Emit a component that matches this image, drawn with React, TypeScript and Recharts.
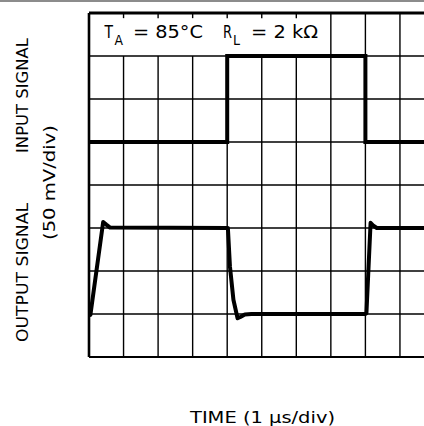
import React from 'react';
import { LineChart, Line, XAxis, YAxis, ReferenceLine } from 'recharts';

// time in divisions (1 µs/div), level in vertical divisions (50 mV/div)
const inputTime = [0, 4, 4, 8, 8, 10];
const inputLevel = [5, 5, 7, 7, 5, 5];

const outputTime = [0, 0.04, 0.41, 0.5, 0.61, 4.02, 4.08, 4.18, 4.3, 4.38, 4.51, 4.7, 8.0, 8.03, 8.15, 8.22, 8.33, 10];
const outputLevel = [0.97, 0.98, 3.14, 3.08, 3.01, 3.0, 2.1, 1.33, 0.9, 0.93, 0.99, 1.0, 1.0, 1.02, 3.12, 3.06, 3.0, 3.0];

const rowLines = [1, 2, 3, 4, 5, 6, 7];
const boxedColumns = [1, 2, 3, 4, 5, 6];
const openColumns = [7, 8, 9, 10];

const inputData = inputTime.map((t, i) => ({ t, v: inputLevel[i] }));
const outputData = outputTime.map((t, i) => ({ t, v: outputLevel[i] }));

const FONT = '"DejaVu Sans Condensed", "Liberation Sans Narrow", "Liberation Sans", Arial, sans-serif';

export default function App() {
  return (
    <div
      style={{
        position: 'fixed',
        left: 0,
        top: 0,
        width: 424,
        height: 426,
        overflow: 'hidden',
        background: '#fff',
      }}
    >
      <div style={{ position: 'absolute', left: 0, top: 0, width: 424, height: 2, background: '#8c8c8c' }} />
      <LineChart
        width={440}
        height={426}
        margin={{ top: 13, left: 89, right: 5.5, bottom: 69 }}
        style={{ position: 'absolute', left: 0, top: 0 }}
      >
        <XAxis type="number" dataKey="t" domain={[0, 10]} hide allowDataOverflow />
        <YAxis type="number" dataKey="v" domain={[0, 8]} hide allowDataOverflow />
        {rowLines.map((r) => (
          <ReferenceLine key={'r' + r} y={r} stroke="#000" strokeWidth={1.4} />
        ))}
        <ReferenceLine y={0} stroke="#000" strokeWidth={2} />
        {boxedColumns.map((c) => (
          <ReferenceLine key={'b' + c} segment={[{ x: c, y: 0 }, { x: c, y: 7 }]} stroke="#000" strokeWidth={1.4} />
        ))}
        {boxedColumns.map((c) => (
          <ReferenceLine key={'k' + c} segment={[{ x: c, y: 7.88 }, { x: c, y: 8 }]} stroke="#000" strokeWidth={1.4} />
        ))}
        {openColumns.map((c) => (
          <ReferenceLine key={'o' + c} segment={[{ x: c, y: 0 }, { x: c, y: 8 }]} stroke="#000" strokeWidth={1.4} />
        ))}
        <ReferenceLine x={0} stroke="#000" strokeWidth={2.6} />
        <ReferenceLine y={8} stroke="#000" strokeWidth={2.8} />
        <Line
          data={inputData}
          dataKey="v"
          type="linear"
          stroke="#000"
          strokeWidth={4}
          strokeLinejoin="miter"
          dot={false}
          activeDot={false}
          isAnimationActive={false}
        />
        <Line
          data={outputData}
          dataKey="v"
          type="linear"
          stroke="#000"
          strokeWidth={4}
          strokeLinejoin="round"
          strokeLinecap="round"
          dot={false}
          activeDot={false}
          isAnimationActive={false}
        />
        <g fontFamily={FONT} fill="#000">
          <text x={104.5} y={38} fontSize={17} textLength={8.5} lengthAdjust="spacingAndGlyphs">T</text>
          <text x={114.5} y={45} fontSize={14} textLength={8.5} lengthAdjust="spacingAndGlyphs">A</text>
          <text x={133} y={38} fontSize={17} textLength={70} lengthAdjust="spacingAndGlyphs">= 85°C</text>
          <text x={223} y={38} fontSize={17} textLength={9} lengthAdjust="spacingAndGlyphs">R</text>
          <text x={233} y={45} fontSize={14} textLength={7} lengthAdjust="spacingAndGlyphs">L</text>
          <text x={251} y={38} fontSize={17} textLength={67} lengthAdjust="spacingAndGlyphs">= 2 kΩ</text>
          <text
            x={28}
            y={95.5}
            fontSize={16}
            textAnchor="middle"
            transform="rotate(-90, 28, 95.5)"
            textLength={115}
            lengthAdjust="spacingAndGlyphs"
          >
            INPUT SIGNAL
          </text>
          <text
            x={28}
            y={272.5}
            fontSize={16}
            textAnchor="middle"
            transform="rotate(-90, 28, 272.5)"
            textLength={139}
            lengthAdjust="spacingAndGlyphs"
          >
            OUTPUT SIGNAL
          </text>
          <text
            x={55}
            y={182.5}
            fontSize={16}
            textAnchor="middle"
            transform="rotate(-90, 55, 182.5)"
            textLength={115}
            lengthAdjust="spacingAndGlyphs"
          >
            (50 mV/div)
          </text>
          <text x={262.5} y={423} fontSize={16.5} textAnchor="middle" textLength={145} lengthAdjust="spacingAndGlyphs">
            TIME (1 µs/div)
          </text>
        </g>
      </LineChart>
    </div>
  );
}
